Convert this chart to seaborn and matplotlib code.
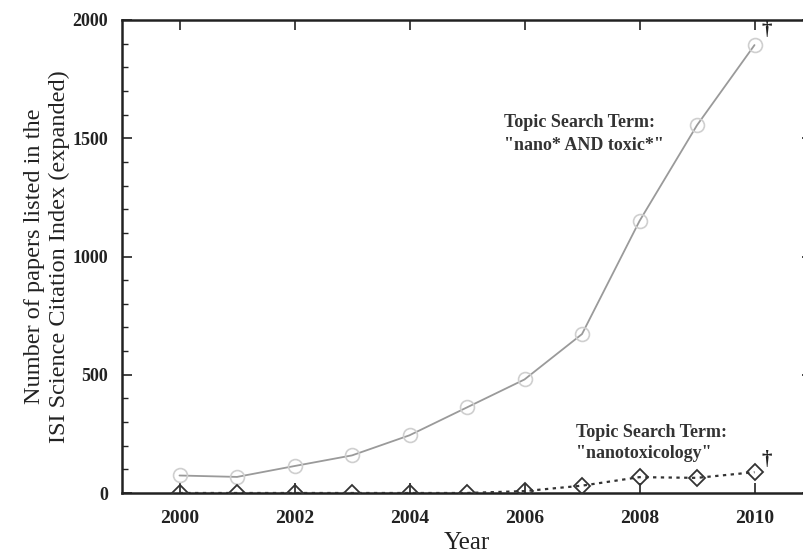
import matplotlib
matplotlib.use("Agg")
import matplotlib.pyplot as plt
import seaborn as sns
import numpy as np
from matplotlib.ticker import MultipleLocator

years = [2000, 2001, 2002, 2003, 2004, 2005, 2006, 2007, 2008, 2009, 2010]
nano_toxic = [74, 68, 114, 159, 244, 362, 480, 672, 1150, 1555, 1894]
nanotoxicology = [0, 0, 0, 0, 0, 0, 8, 31, 67, 64, 88]

label_nano = 'Topic Search Term:\n"nano* AND toxic*"'
label_ntox = 'Topic Search Term:\n"nanotoxicology"'
xlabel = "Year"
ylabel = "Number of papers listed in the\nISI Science Citation Index (expanded)"

sns.set_style("ticks")
plt.rcParams["font.family"] = ["Liberation Serif", "DejaVu Serif"]

fig = plt.figure(figsize=(8.04, 5.55), dpi=100)
ax = fig.add_axes([122 / 804, 62 / 555, 690 / 804, 473 / 555])

sns.lineplot(x=years, y=nano_toxic, ax=ax, color="#9a9a9a", lw=1.3,
             marker="o", markersize=10, markerfacecolor="none",
             markeredgecolor="#cfcfcf", markeredgewidth=1.2, zorder=3)
sns.lineplot(x=years, y=nanotoxicology, ax=ax, color="#333333", lw=1.6,
             linestyle=(0, (1.5, 2.0)),
             marker="D", markersize=8, markerfacecolor="none",
             markeredgecolor="#333333", markeredgewidth=1.3, zorder=4)

ax.set_xlim(1999, 2011)
ax.set_ylim(0, 2000)
ax.set_xticks([2000, 2002, 2004, 2006, 2008, 2010])
ax.set_yticks([0, 500, 1000, 1500, 2000])
ax.yaxis.set_minor_locator(MultipleLocator(100))
ax.tick_params(axis="both", which="major", direction="in", length=7, width=1.2,
               top=True, right=True, labelsize=14, color="#222222")
ax.tick_params(axis="x", which="major", pad=12)
ax.tick_params(axis="y", which="major", pad=10, labelsize=13)
ax.tick_params(axis="y", which="minor", direction="in", length=4, width=1.0,
               right=True, color="#222222")
for lab in ax.get_xticklabels() + ax.get_yticklabels():
    lab.set_fontweight("bold")
    lab.set_color("#222222")

for sp in ax.spines.values():
    sp.set_linewidth(1.8)
    sp.set_color("#222222")

ax.set_xlabel(xlabel, fontsize=18, color="#222222", labelpad=4)
ax.set_ylabel(ylabel, fontsize=17.5, color="#222222", labelpad=2)

ax.text(2005.65, 1517, label_nano, fontsize=13, fontweight="bold",
        color="#333333", ha="left", va="center", linespacing=1.45)
ax.text(2006.9, 210, label_ntox, fontsize=13, fontweight="bold",
        color="#333333", ha="left", va="center", linespacing=1.3)

ax.text(years[-1] + 0.12, nano_toxic[-1] + 20, "\u2020", fontsize=15,
        fontweight="bold", color="#222222", ha="left", va="bottom")
ax.text(years[-1] + 0.12, nanotoxicology[-1] + 10, "\u2020", fontsize=15,
        fontweight="bold", color="#222222", ha="left", va="bottom")

fig.savefig("out.png", dpi=100, facecolor="white")
